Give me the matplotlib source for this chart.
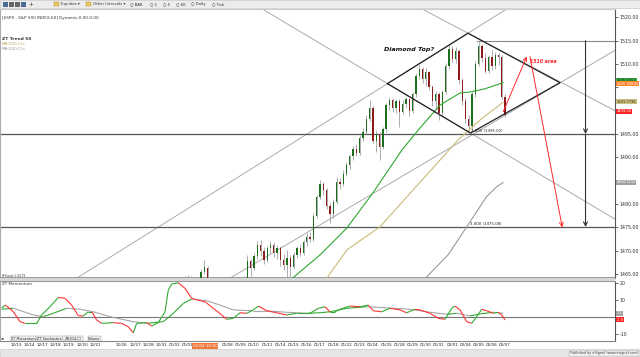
import matplotlib.pyplot as plt
import numpy as np
from matplotlib.collections import LineCollection
from matplotlib.patches import Rectangle
from matplotlib.transforms import blended_transform_factory

plt.rcParams['font.family'] = ['DejaVu Sans']

# x axis = trading day index, 0 = 12/13
date_labels = ['12/13', '12/14', '12/17', '12/18', '12/19', '12/20', '12/21', '12/26', '12/27', '12/28',
               '12/31', '01/02', '01/03', '01/08', '01/09', '01/10', '01/11', '01/14', '01/15', '01/16',
               '01/17', '01/18', '01/22', '01/23', '01/24', '01/25', '01/28', '01/29', '01/30', '01/31',
               '02/01', '02/04', '02/05', '02/06', '02/07']
date_pos = [0, 1, 2, 3, 4, 5, 6, 8, 9, 10, 11, 12, 13, 16, 17, 18, 19, 20, 21, 22,
            23, 24, 25, 26, 27, 28, 29, 30, 31, 32, 33, 34, 35, 36, 37]

# hourly-ish candles, 4 per day starting at day 12.75
opens = [1462.5, 1463.5, 1464.0, 1463.0, 1462.0, 1463.0, 1465.5, 1466.3, 1463.0, 1461.5,
         1462.0, 1461.0, 1460.5, 1461.5, 1462.0, 1461.0, 1462.5, 1462.0, 1463.0, 1464.0,
         1467.8, 1466.2, 1468.8, 1471.2, 1470.0, 1468.0, 1470.5, 1471.3, 1469.4, 1470.6,
         1468.0, 1467.0, 1468.4, 1466.5, 1469.0, 1470.5, 1469.5, 1471.8, 1473.0, 1472.4,
         1477.5, 1481.5, 1484.2, 1483.0, 1479.5, 1477.8, 1480.5, 1484.8, 1484.2, 1486.5,
         1488.3, 1490.2, 1491.8, 1491.0, 1494.2, 1495.5, 1498.3, 1500.6, 1493.5, 1495.0,
         1492.2, 1496.0, 1501.2, 1502.2, 1500.5, 1502.0, 1499.8, 1501.5, 1502.4, 1500.0,
         1503.5, 1507.5, 1509.0, 1506.8, 1508.3, 1505.0, 1502.0, 1503.5, 1499.6, 1504.0,
         1509.5, 1513.2, 1511.0, 1512.8, 1506.5, 1502.0, 1498.2, 1496.8, 1503.5, 1510.0,
         1513.8, 1511.2, 1508.6, 1511.5, 1509.5, 1512.0, 1511.6, 1503.0]
closes = [1463.5, 1464.0, 1463.0, 1462.0, 1463.0, 1465.5, 1466.5, 1463.0, 1461.5, 1462.0,
          1461.0, 1460.5, 1461.5, 1462.0, 1461.0, 1462.5, 1462.0, 1463.0, 1464.0, 1467.8,
          1466.2, 1468.8, 1471.2, 1470.0, 1468.0, 1470.5, 1471.3, 1469.4, 1470.6, 1468.0,
          1467.0, 1468.4, 1466.5, 1469.0, 1470.5, 1469.5, 1471.8, 1473.0, 1472.4, 1477.5,
          1481.5, 1484.2, 1483.0, 1479.5, 1477.8, 1480.5, 1484.8, 1484.2, 1486.5, 1488.3,
          1490.2, 1491.8, 1491.0, 1494.2, 1495.5, 1498.3, 1500.6, 1493.5, 1495.0, 1492.2,
          1496.0, 1501.2, 1502.2, 1500.5, 1502.0, 1499.8, 1501.5, 1502.4, 1500.0, 1503.5,
          1507.5, 1509.0, 1506.8, 1508.3, 1505.0, 1502.0, 1503.5, 1499.6, 1504.0, 1509.5,
          1513.2, 1511.0, 1512.8, 1506.5, 1502.0, 1498.2, 1496.8, 1503.5, 1510.0, 1513.8,
          1511.2, 1508.6, 1511.5, 1509.5, 1512.0, 1511.6, 1503.0, 1499.02]
highs = [1464.6, 1464.8, 1464.5, 1463.5, 1463.8, 1466.0, 1468.0, 1466.8, 1463.5, 1463.0,
         1462.5, 1462.0, 1462.5, 1463.0, 1462.8, 1463.5, 1463.2, 1463.8, 1464.5, 1469.0,
         1468.2, 1469.5, 1472.0, 1472.2, 1470.8, 1471.0, 1472.0, 1471.8, 1471.2, 1471.0,
         1469.2, 1470.2, 1469.0, 1469.8, 1471.0, 1471.5, 1472.3, 1473.8, 1474.0, 1478.0,
         1482.0, 1485.2, 1484.8, 1483.5, 1480.2, 1481.0, 1485.8, 1485.5, 1487.2, 1489.0,
         1490.8, 1492.5, 1492.8, 1494.8, 1496.2, 1499.0, 1502.3, 1501.0, 1495.8, 1495.5,
         1496.5, 1501.6, 1503.0, 1502.8, 1502.6, 1502.5, 1502.2, 1503.0, 1502.8, 1504.0,
         1508.0, 1509.8, 1509.4, 1509.2, 1508.6, 1505.5, 1504.2, 1504.0, 1504.5, 1510.2,
         1514.1, 1513.8, 1513.6, 1513.2, 1507.0, 1502.8, 1499.0, 1504.0, 1510.6, 1514.7,
         1514.2, 1512.4, 1512.0, 1513.0, 1512.5, 1512.4, 1512.0, 1503.5]
lows = [1462.0, 1463.0, 1462.5, 1461.0, 1461.5, 1462.5, 1465.0, 1462.5, 1461.0, 1460.5,
        1460.0, 1459.5, 1460.0, 1461.0, 1460.5, 1460.5, 1461.0, 1461.5, 1462.5, 1463.5,
        1464.5, 1465.8, 1468.2, 1468.8, 1467.2, 1467.5, 1469.5, 1468.6, 1468.2, 1466.8,
        1465.8, 1464.2, 1464.0, 1466.0, 1468.4, 1468.8, 1469.0, 1471.0, 1471.8, 1472.0,
        1477.0, 1481.0, 1482.0, 1479.0, 1476.0, 1477.0, 1480.0, 1483.2, 1483.8, 1486.0,
        1487.5, 1489.4, 1490.2, 1490.5, 1493.5, 1495.0, 1497.8, 1493.0, 1491.2, 1489.4,
        1491.8, 1495.5, 1500.2, 1499.8, 1499.5, 1496.5, 1499.2, 1500.5, 1498.8, 1499.6,
        1503.0, 1506.8, 1506.0, 1505.2, 1504.4, 1501.0, 1500.2, 1498.0, 1499.0, 1503.6,
        1509.0, 1510.4, 1510.2, 1505.8, 1501.2, 1497.4, 1495.4, 1495.9, 1503.0, 1509.6,
        1510.5, 1508.0, 1508.1, 1508.7, 1509.0, 1509.8, 1502.5, 1498.6]

# moving averages
ma50_day = [19.0, 20.95, 23.0, 25.04, 27.0, 29.2, 30.56, 32.07, 33.59, 34.34, 35.48, 36.84]
ma50_val = [1460.5, 1464.2, 1469.1, 1474.9, 1482.4, 1491.6, 1496.3, 1501.2, 1503.8, 1504.0, 1504.7, 1506.0]
ma100_day = [22.0, 23.53, 25.04, 27.53, 30.03, 32.07, 33.43, 35.1, 36.84]
ma100_val = [1461.0, 1464.2, 1470.2, 1475.1, 1483.0, 1489.4, 1493.7, 1498.0, 1501.8]
ma200_day = [30.3, 31.07, 32.68, 34.09, 35.6, 36.36, 36.84]
ma200_val = [1461.0, 1464.4, 1469.1, 1475.1, 1481.6, 1483.7, 1484.6]

# momentum panel
mom_day = [-1.08, -0.83, -0.70, -0.20, 0.30, 0.68, 1.57, 1.94, 2.57, 3.20, 3.71, 4.21, 4.71, 5.09,
           5.47, 5.73, 6.10, 6.48, 7.36, 8.00, 8.49, 8.87, 9.13, 9.89, 10.26, 10.76, 11.27, 11.52,
           11.78, 12.28, 12.78, 13.29, 13.92, 14.30, 14.92, 15.56, 15.94, 16.44, 16.94, 17.45,
           17.95, 18.33, 18.96, 19.72, 20.48, 21.23, 22.24, 22.87, 23.37, 23.75, 24.13, 24.51,
           25.26, 26.02, 26.65, 27.03, 27.66, 28.29, 29.05, 29.55, 30.18, 30.56, 31.32, 31.94,
           32.45, 32.96, 33.21, 33.59, 34.09, 34.47, 34.85, 35.23, 35.61, 36.11, 36.48, 36.74, 36.99]
mom_val = [5.1, 7.0, 6.4, 3.0, -2.9, -3.9, -3.9, 1.1, 6.0, 11.6, 11.0, 7.0, 0.7, 0.5,
           3.0, 3.0, -1.9, -3.9, -3.5, -3.9, -5.9, -9.5, -3.9, -3.5, -5.5, -3.5, 3.0, 16.0,
           19.6, 20.3, 17.0, 11.0, 9.6, 9.0, 5.1, 1.1, -1.5, -0.9, 2.4, 2.1,
           4.1, 6.4, 3.6, 2.4, 1.1, 2.1, 2.1, 5.1, 6.0, 3.0, 3.0, 4.5,
           6.4, 6.0, 7.0, 3.6, 3.0, 5.1, 4.1, 2.4, 4.5, 4.1, 2.1, -0.9,
           -1.5, 5.1, 6.4, 4.1, -2.9, -3.9, 0.1, 4.5, 3.6, 2.1, 2.7, 1.1, -1.9]
sig_day = [-1.08, -0.20, 1.31, 2.07, 2.82, 3.84, 4.84, 5.85, 7.11, 8.87, 9.89, 11.14, 11.90, 12.66,
           13.29, 14.43, 15.43, 16.44, 17.95, 18.96, 20.48, 21.99, 23.00, 23.75, 25.02, 26.53,
           27.28, 28.54, 29.80, 31.07, 32.58, 33.34, 34.34, 35.10, 36.11, 36.86]
sig_val = [4.5, 5.1, 1.1, 0.1, 2.1, 5.1, 4.5, 3.0, 0.1, -2.9, -3.9, -2.9, 2.1, 8.0,
           10.6, 9.6, 7.0, 4.1, 3.6, 3.6, 2.7, 2.1, 2.4, 3.0, 5.1, 6.0,
           5.7, 5.1, 4.5, 3.0, 1.5, 2.1, 0.5, 1.7, 2.7, 2.1]

# drawing tools on the chart (diamond + extensions, fib levels)
diamond_day = [28.1, 34.19, 41.15, 34.38, 28.1]
diamond_val = [1505.8, 1516.6, 1506.0, 1495.2, 1505.8]
ext_lines = [((4.0, 1463.07), (38.0, 1523.35)),
             ((20.0, 1537.8), (46.0, 1498.96)),
             ((16.0, 1463.8), (46.0, 1514.1)),
             ((18.0, 1522.85), (46.0, 1475.6))]
fib_levels = [1515.0, 1495.02, 1475.08]

# right axis labels (the ones hidden behind value tags are left blank)
price_ticks = [1465, 1470, 1475, 1480, 1485, 1490, 1495, 1500, 1505, 1510, 1515, 1520]
price_tick_labels = ['1465.00', '1470.00', '1475.00', '1480.00', '', '1490.00', '1495.00', '', '',
                     '1510.00', '1515.00', '1520.00']

W, H = 640.0, 357.0


def fx(px):
    return px / W


def fy(py):
    return 1 - py / H


fig = plt.figure(figsize=(6.4, 3.57), dpi=100)
fig.patch.set_facecolor('white')

ax = fig.add_axes([0.0, fy(278), fx(615), (278 - 9) / H])
ax2 = fig.add_axes([0.0, fy(341), fx(615), (341 - 281) / H])

xmin, xmax = -1.21, 45.31

# ---- main price panel
ax.set_xlim(xmin, xmax)
ax.set_ylim(1464.15, 1521.79)

bar_day = 12.75 + 0.25 * np.arange(len(closes))
o = np.array(opens)
c = np.array(closes)
ax.vlines(bar_day, lows, highs, color='#a0a0a0', lw=0.6, zorder=3)
ax.bar(bar_day, c - o, bottom=o, width=0.10, color=np.where(c >= o, '#1d6e1d', '#8e1a1a'), lw=0, zorder=4)

ax.plot(ma50_day, ma50_val, color='#2fa82f', lw=0.8, zorder=5)
ax.plot(ma100_day, ma100_val, color='#cbbb78', lw=0.8, zorder=5)
ax.plot(ma200_day, ma200_val, color='#9a9a9a', lw=0.8, zorder=5)

for (x0, y0), (x1, y1) in ext_lines:
    ax.plot([x0, x1], [y0, y1], color='#ababab', lw=0.7, zorder=2)
ax.plot(diamond_day, diamond_val, color='#222222', lw=0.9, zorder=6)

ax.plot([34.9, xmax], [fib_levels[0], fib_levels[0]], color='#8a8a8a', lw=0.8, zorder=2)
ax.axhline(fib_levels[1], color='#555555', lw=0.9, zorder=2)
ax.axhline(fib_levels[2], color='#555555', lw=0.9, zorder=2)
ax.text(34.4, 1495.3, '2.000 (1495.02)', fontsize=2.8, color='#222', va='bottom', zorder=7)
ax.text(34.35, 1475.36, '3.000 (1475.08)', fontsize=2.8, color='#222', va='bottom', zorder=7)

arrow_black = dict(arrowstyle='->', color='#333333', lw=0.8, shrinkA=0, shrinkB=0, mutation_scale=7)
ax.annotate('', xy=(43.08, 1495.02), xytext=(43.08, 1515.0), arrowprops=arrow_black, zorder=7)
ax.annotate('', xy=(43.08, 1475.08), xytext=(43.08, 1495.02), arrowprops=arrow_black, zorder=7)
arrow_red = dict(arrowstyle='->', color='#ff2a2a', lw=0.7, shrinkA=0, shrinkB=0, mutation_scale=7)
ax.annotate('', xy=(38.63, 1511.6), xytext=(36.86, 1499.8), arrowprops=arrow_red, zorder=7)
ax.annotate('', xy=(41.32, 1475.0), xytext=(38.88, 1511.6), arrowprops=arrow_red, zorder=7)

ax.text(27.8, 1513.2, 'Diamond Top?', fontsize=4.6, fontweight='bold', fontstyle='italic', color='#111',
        va='center', zorder=7)
ax.text(38.85, 1510.6, '1510 area', fontsize=3.4, fontweight='bold', fontstyle='italic', color='#ff2a2a',
        va='center', zorder=7)

tr = blended_transform_factory(ax.transAxes, ax.transData)
ax.text(0.003, 1519.9, r'[\$SPX - S&P 500 INDEX,60] Dynamic,0:00-0:00', fontsize=3.0, color='#333',
        transform=tr, va='center')
ax.text(0.003, 1515.4, 'ZT Trend 50', fontsize=3.2, color='#333', fontweight='bold', transform=tr, va='center')
ax.text(0.003, 1514.2, 'MA(100,C)s', fontsize=3.0, color='#b8a860', transform=tr, va='center')
ax.text(0.003, 1513.2, 'MA(200,C)s', fontsize=3.0, color='#999999', transform=tr, va='center')
ax.text(0.003, 1464.6, 'Pr:Equal,1.0079', fontsize=2.2, color='#444', transform=tr, va='center')

ax.set_xticks([])
ax.yaxis.tick_right()
ax.set_yticks(price_ticks)
ax.set_yticklabels(price_tick_labels)
ax.tick_params(axis='y', labelsize=3.4, length=2, width=0.5, pad=1.5, colors='#333')
ax.spines['left'].set_color('#aaaaaa')
ax.spines['top'].set_color('#cccccc')
ax.spines['right'].set_color('#555555')
ax.spines['bottom'].set_color('#888888')
ax.spines['bottom'].set_linewidth(1.2)

value_tags = [(1506.5, '1506.0000', '#3cb043', '#113311'),
              (1505.8, '1505.99894', '#ff7f2a', 'white'),
              (1501.9, '1501.7730', '#cbbd7a', '#333333'),
              (1499.9, '1499.02', '#ff2222', 'white'),
              (1484.7, '1484.7132', '#a0a0a0', 'white')]
for val, txt, bg, fg in value_tags:
    ax.text(1.003, val, txt, transform=tr, fontsize=2.6, color=fg, va='center', clip_on=False,
            bbox=dict(boxstyle='square,pad=0.12', fc=bg, ec='none'), zorder=8)

# ---- momentum panel
ax2.set_xlim(xmin, xmax)
ax2.set_ylim(-14.43, 21.35)
ax2.axhline(0, color='#777777', lw=0.8, zorder=1)

md = np.array(mom_day)
mv = np.array(mom_val)
segs = [[(md[i], mv[i]), (md[i + 1], mv[i + 1])] for i in range(len(md) - 1)]
cols = ['#33aa33' if mv[i + 1] >= mv[i] else '#ff3333' for i in range(len(md) - 1)]
ax2.add_collection(LineCollection(segs, colors=cols, linewidths=0.8, zorder=3))

sd = np.array(sig_day)
sv = np.array(sig_val)
segs = [[(sd[i], sv[i]), (sd[i + 1], sv[i + 1])] for i in range(len(sd) - 1)]
cols = ['#33aa33' if sv[i + 1] > sv[i] else '#a6a6a6' for i in range(len(sd) - 1)]
ax2.add_collection(LineCollection(segs, colors=cols, linewidths=0.8, zorder=2))

tr2 = blended_transform_factory(ax2.transAxes, ax2.transData)
ax2.text(0.003, 19.3, 'ZT Momentum', fontsize=3.0, color='#333', transform=tr2, va='center')

ax2.yaxis.tick_right()
ax2.set_yticks([-10, 10, 20])
ax2.set_yticklabels(['-10', '10', '20'])
ax2.tick_params(axis='y', labelsize=3.4, length=2, width=0.5, pad=1.5, colors='#333')
ax2.set_xticks(date_pos)
ax2.set_xticklabels(date_labels)
ax2.tick_params(axis='x', labelsize=3.0, length=0, pad=1.5, colors='#222')
ax2.spines['left'].set_color('#aaaaaa')
ax2.spines['top'].set_color('#999999')
ax2.spines['right'].set_color('#555555')
ax2.spines['bottom'].set_color('#888888')

ax2.text(1.003, 2.1, '1.1', transform=tr2, fontsize=2.6, color='white', va='center', clip_on=False,
         bbox=dict(boxstyle='square,pad=0.12', fc='#a0a0a0', ec='none'), zorder=8)
ax2.text(1.003, -1.8, '-1.9', transform=tr2, fontsize=2.6, color='white', va='center', clip_on=False,
         bbox=dict(boxstyle='square,pad=0.12', fc='#ff2222', ec='none'), zorder=8)

ax2.text(14.3, -0.045, '01/04 10:00', transform=blended_transform_factory(ax2.transData, ax2.transAxes),
         fontsize=3.0, color='white', ha='center', va='top', clip_on=False,
         bbox=dict(boxstyle='square,pad=0.2', fc='#f07838', ec='none'))

# ---- frame decorations: toolbar, panel separator, tabs, footer
fig.patches.append(Rectangle((0, fy(8)), 1, 8 / H, transform=fig.transFigure, fc='#ececec', ec='#c8c8c8', lw=0.5))
for px, colr in [(3, '#4a6a9a'), (9, '#666666'), (15, '#666666'), (21, '#4a6a9a')]:
    fig.patches.append(Rectangle((fx(px), fy(6.5)), 4.5 / W, 5 / H, transform=fig.transFigure, fc=colr, ec='none'))
fig.text(fx(28), fy(4.2), '+', fontsize=4, color='#333', va='center')
for px in [54, 86]:
    fig.patches.append(Rectangle((fx(px), fy(6.3)), 5 / W, 4.5 / H, transform=fig.transFigure, fc='#e8c860', ec='#b09030', lw=0.3))
toolbar_items = [(61, 'Equities \u25be'), (93, 'Other Intervals \u25be'), (130, '\u25cb BAR'), (150, '\u25cb 1'),
                 (163, '\u25cb 5'), (176, '\u25cb 60'), (191, '\u25cb Daily'), (212, '\u25cb Tick')]
for px, txt in toolbar_items:
    fig.text(fx(px), fy(4.4), txt, fontsize=2.8, color='#333', va='center')

fig.patches.append(Rectangle((0, fy(281)), fx(615), 3 / H, transform=fig.transFigure, fc='#d6d6d6', ec='none', zorder=0))

fig.text(fx(1), fy(338.5), '\u25c2\u25b8', fontsize=3, color='#333', va='center')
tab_items = [(11, 'ZT Momentum'), (37, 'ZT Stochastics(...)'), (66, 'RSI(14,C)'), (88, 'Volume')]
for px, txt in tab_items:
    fig.text(fx(px), fy(338.5), txt, fontsize=2.4, color='#222', va='center',
             bbox=dict(boxstyle='square,pad=0.15', fc='#f2f2f2', ec='#888888', lw=0.3))

fig.patches.append(Rectangle((0, 0), 1, 8 / H, transform=fig.transFigure, fc='#e6e6e6', ec='#c0c0c0', lw=0.4))
fig.text(fx(638), fy(353.3), 'Published by eSignal (www.esignal.com)', fontsize=2.4, color='#333',
         ha='right', va='center', bbox=dict(boxstyle='square,pad=0.15', fc='#f7f7f7', ec='#999999', lw=0.3))

fig.savefig('out.png', dpi=100)
